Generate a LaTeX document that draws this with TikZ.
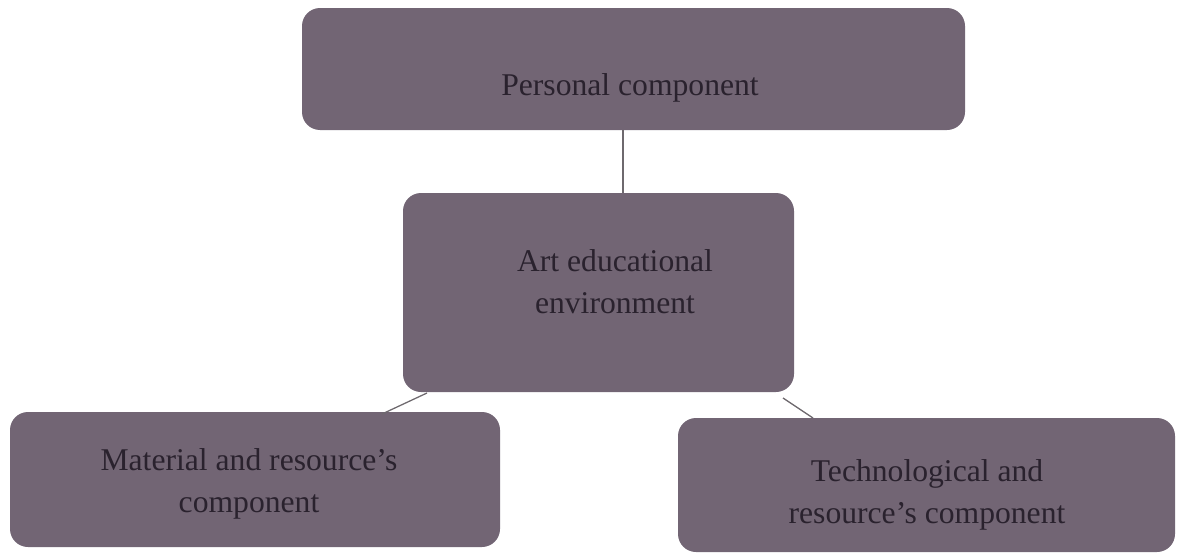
\documentclass[tikz,border=0pt]{standalone}
\usepackage{fontspec}
\setmainfont{Liberation Serif}
\definecolor{boxfill}{RGB}{114,101,116}
\definecolor{boxtext}{RGB}{42,34,46}
\definecolor{linkcol}{RGB}{110,105,110}
\begin{document}
\begin{tikzpicture}[x=0.025cm,y=-0.025cm,
  panel/.style={draw=none,fill=boxfill,rounded corners=0.45cm,inner sep=0pt},
  label/.style={text=boxtext,align=center,font=\fontsize{22.5}{30}\selectfont,inner sep=0pt},
  link/.style={draw=linkcol,line width=0.9pt}]
\useasboundingbox (0,0) rectangle (1180,553);
\node[panel,minimum width=663*0.025cm,minimum height=122*0.025cm] (top) at (633.5,69) {};
\node[panel,minimum width=391*0.025cm,minimum height=199*0.025cm] (mid) at (598.5,292.5) {};
\node[panel,minimum width=490*0.025cm,minimum height=135*0.025cm] (left) at (255,479.5) {};
\node[panel,minimum width=497*0.025cm,minimum height=134*0.025cm] (right) at (926.5,485) {};
\node[label] (topT) at (630,88) {Personal component};
\node[label] (midT) at (615,282) {Art educational\\environment};
\node[label] (leftT) at (249,484) {Material and resource’s\\component};
\node[label] (rightT) at (927,495) {Technological and\\resource’s component};
\draw[link] (top.south -| 623,0) -- (mid.north -| 623,0);
\coordinate (lA) at (427,393);
\coordinate (lB) at (382,414);
\coordinate (rA) at (783,398);
\coordinate (rB) at (813,418);
\draw[link] (lA) -- (lB);
\draw[link] (rA) -- (rB);
\end{tikzpicture}
\end{document}
